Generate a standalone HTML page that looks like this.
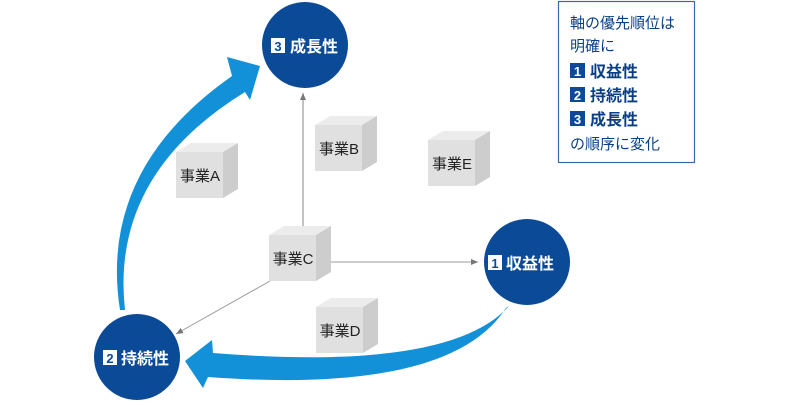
<!DOCTYPE html>
<html><head><meta charset="utf-8"><style>
body{margin:0;background:#fff;}
svg text{font-family:"Liberation Sans","Noto Sans CJK JP",sans-serif;}
</style></head><body>
<svg width="787" height="400" viewBox="0 0 787 400" xmlns="http://www.w3.org/2000/svg">
<defs>
<marker id="ar" markerWidth="8" markerHeight="8" refX="7" refY="4" orient="auto" markerUnits="userSpaceOnUse"><path d="M0,1 L7,4 L0,7 Z" fill="#777"/></marker>
<g id="cube"><path d="M0,0 L15,-9 L62,-9 L47,0 Z" fill="#ececec"/><path d="M47,0 L62,-9 L62,37 L47,46 Z" fill="#cdcdcd"/><rect x="0" y="0" width="47" height="46" fill="#e0e0e0"/></g>
</defs>
<line x1="303" y1="226" x2="303" y2="93" stroke="#999" stroke-width="1.2" marker-end="url(#ar)"/>
<line x1="331" y1="262" x2="478" y2="262" stroke="#999" stroke-width="1" marker-end="url(#ar)"/>
<line x1="270" y1="281" x2="176" y2="334" stroke="#999" stroke-width="1" marker-end="url(#ar)"/>
<path d="M120,310 Q98,170 232,76 L227,57 L260,66 L250,100 L245,92 Q110,175 125,310 Z" fill="#1391d8"/>
<path d="M506,308 Q450,395 208,377 L203,388 L185,361 L212,340 L213,353 Q450,372 509,306 Z" fill="#1391d8"/>
<use href="#cube" x="176" y="152"/>
<use href="#cube" x="315" y="125"/>
<use href="#cube" x="428" y="140"/>
<use href="#cube" x="269" y="235"/>
<use href="#cube" x="316" y="307"/>
<g font-size="15" fill="#222" text-anchor="middle">
<text x="200" y="181">事業A</text>
<text x="339" y="154">事業B</text>
<text x="452" y="169">事業E</text>
<text x="293" y="264">事業C</text>
<text x="340" y="336">事業D</text>
</g>
<circle cx="305" cy="45" r="43" fill="#0a4a97"/>
<circle cx="527" cy="262" r="43" fill="#0a4a97"/>
<circle cx="137" cy="357" r="43" fill="#0a4a97"/>
<g font-size="16" font-weight="bold">
<rect x="271" y="38" width="14" height="15" fill="#fff"/><text x="278" y="51" fill="#0a4a97" text-anchor="middle" font-size="13">3</text><text x="290" y="52" fill="#fff">成長性</text>
<rect x="488" y="255" width="14" height="15" fill="#fff"/><text x="495" y="268" fill="#0a4a97" text-anchor="middle" font-size="13">1</text><text x="506" y="269" fill="#fff">収益性</text>
<rect x="103" y="350" width="14" height="15" fill="#fff"/><text x="110" y="363" fill="#0a4a97" text-anchor="middle" font-size="13">2</text><text x="121" y="364" fill="#fff">持続性</text>
</g>
<rect x="558.5" y="1.5" width="136" height="161" fill="#fff" stroke="#3d6aa6" stroke-width="1.2"/>
<g font-size="15" fill="#0a3f86">
<text x="570" y="28">軸の優先順位は</text>
<text x="570" y="51">明確に</text>
<g font-weight="bold" font-size="16">
<rect x="570" y="63" width="15" height="15" fill="#0a4a97"/><text x="577.5" y="76" fill="#fff" text-anchor="middle" font-size="13">1</text><text x="590" y="77">収益性</text>
<rect x="570" y="87" width="15" height="15" fill="#0a4a97"/><text x="577.5" y="100" fill="#fff" text-anchor="middle" font-size="13">2</text><text x="590" y="101">持続性</text>
<rect x="570" y="111" width="15" height="15" fill="#0a4a97"/><text x="577.5" y="124" fill="#fff" text-anchor="middle" font-size="13">3</text><text x="590" y="125">成長性</text>
</g>
<text x="570" y="149">の順序に変化</text>
</g>
</svg>
</body></html>
